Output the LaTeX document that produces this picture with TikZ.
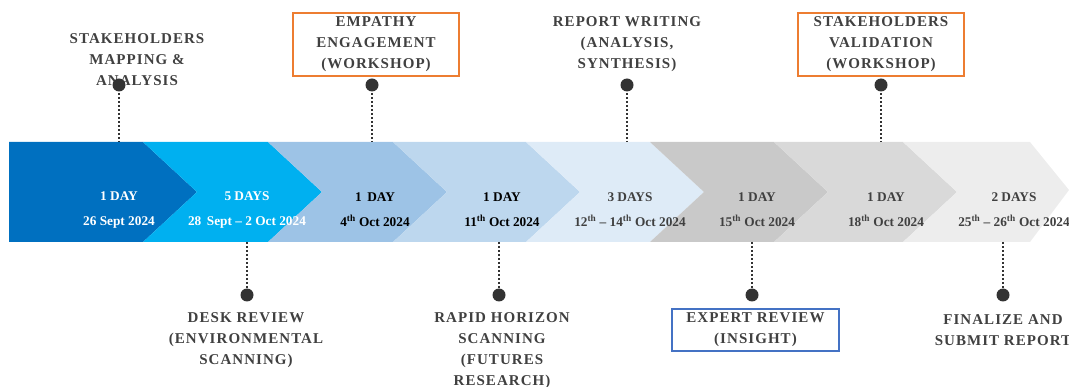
\documentclass[tikz,border=0pt]{standalone}
\usepackage{fontspec}
\setmainfont{Liberation Serif}
\definecolor{cA}{HTML}{0070C0}
\definecolor{cB}{HTML}{00B0F0}
\definecolor{cC}{HTML}{9DC3E6}
\definecolor{cD}{HTML}{BDD7EE}
\definecolor{cE}{HTML}{DEEBF7}
\definecolor{cF}{HTML}{C9C9C9}
\definecolor{cG}{HTML}{D9D9D9}
\definecolor{cH}{HTML}{EDEDED}
\definecolor{ink}{HTML}{404040}
\definecolor{dotink}{HTML}{333333}
\definecolor{boxorange}{HTML}{ED7D31}
\definecolor{boxblue}{HTML}{4472C4}
\tikzset{
  lbl/.style={font=\fontsize{15}{21}\selectfont\bfseries\addfontfeatures{LetterSpace=7},
    text=ink, align=center, inner sep=0pt},
  framed/.style={lbl, draw=#1, line width=1.2pt, minimum height=63pt, minimum width=166pt},
  bandtxt/.style={font=\fontsize{13.3}{25}\selectfont\bfseries, align=center, inner sep=0pt},
  pin/.style={circle, fill=dotink, minimum size=13pt, inner sep=0pt},
  leader/.style={draw=dotink, line width=2pt, dash pattern=on 2pt off 2pt},
}
\begin{document}
\begin{tikzpicture}[x=1pt,y=-1pt]
\useasboundingbox (0,0) rectangle (1069,387);
\clip (0,0) rectangle (1069,387);

% chevron band
\def\d{54}
\fill[cA] (9,142) -- (143,142) -- (197,192) -- (143,242) -- (9,242) -- cycle;
\foreach \a/\b/\c in {197/322/cB, 322/447/cC, 447/580/cD, 580/704/cE, 704/828/cF, 828/957/cG}{
  \fill[\c] (\a-\d,142) -- (\b-\d,142) -- (\b,192) -- (\b-\d,242) -- (\a-\d,242) -- (\a,192) -- cycle;
}
\fill[cH] (957-\d,142) -- (1030,142) -- (1069,190) -- (1030,242) -- (957-\d,242) -- (957,192) -- cycle;

% durations and dates
\node[bandtxt, text=white] (p1) at (119,210) {1 DAY\\26 Sept 2024};
\node[bandtxt, text=white] (p2) at (247,210) {5 DAYS\\28\, Sept -- 2 Oct 2024};
\node[bandtxt, text=black] (p3) at (375,210) {1\, DAY\\4\textsuperscript{th} Oct 2024};
\node[bandtxt, text=black] (p4) at (502,210) {1 DAY\\11\textsuperscript{th} Oct 2024};
\node[bandtxt, text=ink] (p5) at (630,210) {3 DAYS\\12\textsuperscript{th} -- 14\textsuperscript{th} Oct 2024};
\node[bandtxt, text=ink] (p6) at (757,210) {1 DAY\\15\textsuperscript{th} Oct 2024};
\node[bandtxt, text=ink] (p7) at (886,210) {1 DAY\\18\textsuperscript{th} Oct 2024};
\node[bandtxt, text=ink] (p8) at (1014,210) {2 DAYS\\25\textsuperscript{th} -- 26\textsuperscript{th} Oct 2024};

% band edges where the leaders meet it
\coordinate (u1) at (119,142);
\coordinate (u3) at (372,142);
\coordinate (u5) at (627,142);
\coordinate (u7) at (881,142);
\coordinate (l2) at (247,242);
\coordinate (l4) at (499,242);
\coordinate (l6) at (752,242);
\coordinate (l8) at (1003,242);

% upper milestones
\node[lbl] (smap) at (137,60) {STAKEHOLDERS\\MAPPING \&\\ANALYSIS};
\node[framed=boxorange] (empathy) at (376,44.5) {EMPATHY\\ENGAGEMENT\\(WORKSHOP)};
\node[lbl] (report) at (627,44) {REPORT WRITING\\(ANALYSIS,\\SYNTHESIS)};
\node[framed=boxorange] (valid) at (881,44.5) {STAKEHOLDERS\\VALIDATION\\(WORKSHOP)};

\draw[leader] (119,85) -- (u1);
\draw[leader] (372,85) -- (u3);
\draw[leader] (627,85) -- (u5);
\draw[leader] (881,85) -- (u7);
\node[pin] (d1) at (119,85) {};
\node[pin] (d3) at (372,85) {};
\node[pin] (d5) at (627,85) {};
\node[pin] (d7) at (881,85) {};

% lower milestones
\node[lbl] (desk) at (246,340) {DESK REVIEW\\(ENVIRONMENTAL\\SCANNING)};
\node[lbl] (rapid) at (502,350.5) {RAPID HORIZON\\SCANNING\\(FUTURES\\RESEARCH)};
\node[framed=boxblue, minimum height=42pt, minimum width=167pt] (expert) at (755.5,330) {EXPERT REVIEW\\(INSIGHT)};
\node[lbl] (final) at (1003,330) {FINALIZE AND\\SUBMIT REPORT};

\draw[leader] (l2) -- (247,295);
\draw[leader] (l4) -- (499,295);
\draw[leader] (l6) -- (752,295);
\draw[leader] (l8) -- (1003,295);
\node[pin] (d2) at (247,295) {};
\node[pin] (d4) at (499,295) {};
\node[pin] (d6) at (752,295) {};
\node[pin] (d8) at (1003,295) {};
\end{tikzpicture}
\end{document}
